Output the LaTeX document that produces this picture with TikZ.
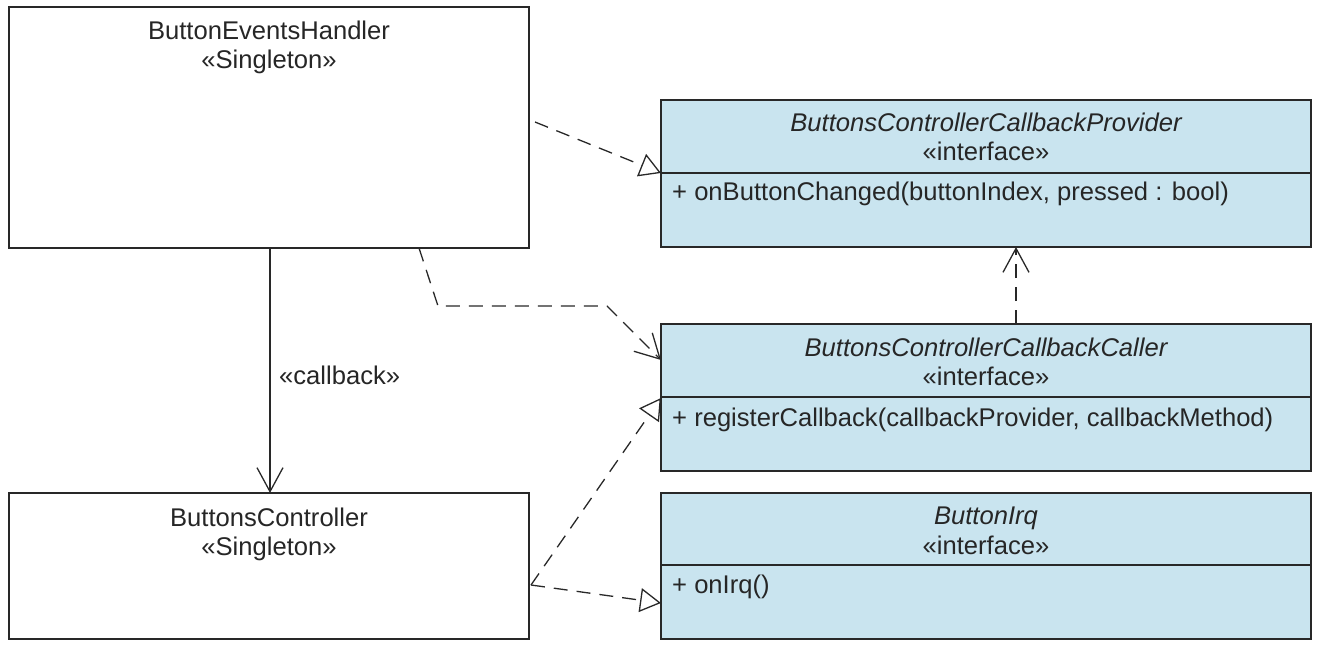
\documentclass[tikz,border=0pt]{standalone}
\usepackage{fontspec}
\setmainfont{Liberation Sans}
\usetikzlibrary{arrows.meta}
\definecolor{ifill}{RGB}{201,228,239}
\definecolor{lc}{RGB}{40,40,40}
\tikzset{
  clsbox/.style={draw=lc, line width=1.4pt, anchor=north west, inner sep=0pt, outer sep=0pt},
  ibox/.style={clsbox, fill=ifill, minimum width=650pt},
  wbox/.style={clsbox, fill=white, minimum width=520pt},
  txt/.style={anchor=base, inner sep=0pt, font=\fontsize{25.6}{29.5}\selectfont, text=black!85},
  mtxt/.style={txt, anchor=base west},
  dep/.style={draw=lc, line width=1.3pt, dash pattern=on 14pt off 9pt},
  real/.style={dep, -{Triangle[open, length=21pt, width=24pt, line width=1.3pt]}},
  depv/.style={dep, -{Straight Barb[length=24pt, width=26pt, line width=1.3pt]}},
  assoc/.style={draw=lc, line width=1.3pt, -{Straight Barb[length=24pt, width=26pt, line width=1.3pt]}},
}
\begin{document}
\begin{tikzpicture}[x=1pt, y=-1pt]
\useasboundingbox (0,0) rectangle (1343,661);
% white classes
\node[wbox, minimum height=241pt] (A) at (9,7) {};
\node[wbox, minimum height=146pt] (B) at (9,493) {};
% interfaces
\node[ibox, minimum height=147pt] (P) at (661,100) {};
\node[ibox, minimum height=147pt] (C) at (661,324) {};
\node[ibox, minimum height=146pt] (I) at (661,493) {};
% dividers
\draw[draw=lc, line width=1.4pt] ([yshift=-73pt]P.north west) -- ([yshift=-73pt]P.north east);
\draw[draw=lc, line width=1.4pt] ([yshift=-73pt]C.north west) -- ([yshift=-73pt]C.north east);
\draw[draw=lc, line width=1.4pt] ([yshift=-72pt]I.north west) -- ([yshift=-72pt]I.north east);
% texts
\node[txt] (At) at (269,40) {ButtonEventsHandler};
\node[txt] (As) at (269,69) {«Singleton»};
\node[txt] (Bt) at (269,526) {ButtonsController};
\node[txt] (Bs) at (269,555) {«Singleton»};
\node[txt, font=\fontsize{25.6}{29.5}\selectfont\itshape] (Pt) at (986,131) {ButtonsControllerCallbackProvider};
\node[txt] (Ps) at (986,160) {«interface»};
\node[mtxt] (Pm) at (672,200) {+ onButtonChanged(buttonIndex, pressed : bool)};
\node[txt, font=\fontsize{25.6}{29.5}\selectfont\itshape] (Ct) at (986,356) {ButtonsControllerCallbackCaller};
\node[txt] (Cs) at (986,385) {«interface»};
\node[mtxt] (Cm) at (672,426) {+ registerCallback(callbackProvider, callbackMethod)};
\node[txt, font=\fontsize{25.6}{29.5}\selectfont\itshape] (It) at (986,524) {ButtonIrq};
\node[txt] (Is) at (986,554) {«interface»};
\node[mtxt] (Im) at (672,593) {+ onIrq()};
% connector helper coordinates
\coordinate (c1s) at (535,122);
\coordinate (c2a) at (438,306);
\coordinate (c2b) at (607,306);
\coordinate (bs) at (531,585);
% connectors
\draw[real] (c1s) -- ([yshift=-73pt]P.north west);
\draw[depv] ([xshift=-110pt]A.south east) -- (c2a) -- (c2b) -- ([yshift=-36pt]C.north west);
\draw[assoc] ([xshift=1pt]A.south) -- ([xshift=1pt]B.north);
\node[mtxt] (cb) at (279,384) {«callback»};
\draw[depv] ([xshift=355pt]C.north west) -- ([xshift=355pt]P.south west);
\draw[real] (bs) -- ([yshift=-74pt]C.north west);
\draw[real] (bs) -- ([yshift=-110pt]I.north west);
\end{tikzpicture}
\end{document}
